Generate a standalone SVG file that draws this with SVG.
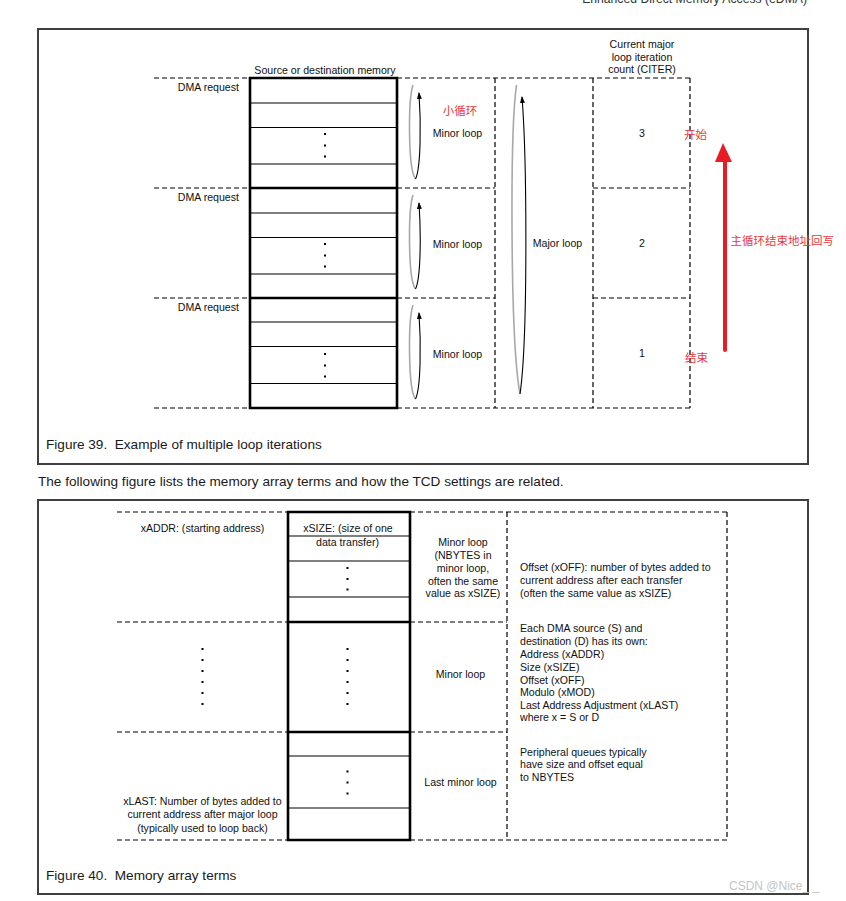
<svg xmlns="http://www.w3.org/2000/svg" width="846" height="901" viewBox="0 0 846 901">
<style>
text{font-family:"Liberation Sans",Arial,sans-serif;fill:#111}
.t{font-size:10.6px}
.c{text-anchor:middle}
.e{text-anchor:end}
.cap{font-size:13.6px;fill:#1a1a1a}
.cn{font-family:"Liberation Sans","Noto Sans CJK SC",sans-serif;font-size:11.5px;fill:#e8383d}
.frame{fill:none;stroke:#404040;stroke-width:2}
.dash{fill:none;stroke:#000;stroke-width:1.2;stroke-dasharray:5,3}
.mem{fill:none;stroke:#000;stroke-width:2.6}
.row{stroke:#000;stroke-width:1.1}
.dot{fill:#000}
.lg{fill:none;stroke:#a8a8a8;stroke-width:1.6}
.lb{fill:none;stroke:#000;stroke-width:1.1}
</style>
<defs>
<marker id="ah" viewBox="0 0 7 6" refX="6" refY="3" markerWidth="7" markerHeight="6" markerUnits="userSpaceOnUse" orient="auto">
<path d="M0,0.5 L7,3 L0,5.5 Z" fill="#000"/>
</marker>
</defs>
<rect width="846" height="901" fill="#fff"/>
<text x="807" y="3" class="e" style="font-size:12.2px;fill:#333">Enhanced Direct Memory Access (eDMA)</text>

<!-- Figure 39 -->
<g id="fig39">
<rect x="38" y="29" width="770" height="435" class="frame"/>
<text x="325" y="74" class="t c">Source or destination memory</text>
<text x="642" y="48" class="t c">Current major</text>
<text x="642" y="60.5" class="t c">loop iteration</text>
<text x="642" y="73" class="t c">count (CITER)</text>
<path class="dash" d="M154,78H250M397,78H690M154,188H250M397,188H495M593,188H690M154,298H250M397,298H495M593,298H690M154,408H250M397,408H690M495,78V408M593,78V408M690,78V408"/>
<text x="46" y="449" class="cap">Figure 39.&#160; Example of multiple loop iterations</text>
</g>

<g id="mem39">
<path class="row" d="M250,103H397M250,127.5H397M250,164H397M250,213H397M250,237.5H397M250,274H397M250,322H397M250,346.5H397M250,383.5H397"/>
<path class="mem" d="M250,78H397V408H250ZM250,188H397M250,298H397"/>
<g class="dot">
<rect x="324" y="133" width="2" height="2"/><rect x="324" y="144.5" width="2" height="2"/><rect x="324" y="155.5" width="2" height="2"/>
<rect x="324" y="243" width="2" height="2"/><rect x="324" y="254.5" width="2" height="2"/><rect x="324" y="265.5" width="2" height="2"/>
<rect x="324" y="353" width="2" height="2"/><rect x="324" y="364.5" width="2" height="2"/><rect x="324" y="375.5" width="2" height="2"/>
</g>
</g>

<g id="req1"><text x="239" y="91" class="t e">DMA request</text></g>
<g id="req2"><text x="239" y="201" class="t e">DMA request</text></g>
<g id="req3"><text x="239" y="311" class="t e">DMA request</text></g>

<g id="minor1"><text x="457.5" y="137" class="t c">Minor loop</text><text x="460" y="115" class="cn c">小循环</text></g>
<g id="minor2"><text x="457.5" y="248" class="t c">Minor loop</text></g>
<g id="minor3"><text x="457.5" y="358" class="t c">Minor loop</text></g>
<g id="major"><text x="557.5" y="247" class="t c">Major loop</text></g>
<g id="citer3"><text x="642" y="137" class="t c">3</text><text x="695.5" y="139" class="cn c">开始</text></g>
<g id="citer2"><text x="642" y="247" class="t c">2</text></g>
<g id="citer1"><text x="642" y="357" class="t c">1</text><text x="696.5" y="362" class="cn c">结束</text></g>

<g id="connectors">
<path class="lg" d="M413,85C408,100 408,170 415.5,179"/>
<path class="lb" d="M415.5,179C421,168 421,122 419,93" marker-end="url(#ah)"/>
<path class="lg" d="M413,195C408,210 408,280 415.5,289"/>
<path class="lb" d="M415.5,289C421,278 421,232 419,203" marker-end="url(#ah)"/>
<path class="lg" d="M413,305C408,320 408,390 415.5,399"/>
<path class="lb" d="M415.5,399C421,388 421,342 419,313" marker-end="url(#ah)"/>
<path class="lg" d="M516.5,85C510,130 510,340 520,394"/>
<path class="lb" d="M520,394C528,340 527,160 522,97" marker-end="url(#ah)"/>
<g id="writeback">
<path d="M725,350V158" stroke="#e81c24" stroke-width="4" stroke-linecap="round" fill="none"/>
<path d="M715,162L723,143L732,162Z" fill="#e81c24"/>
</g>
</g>
<g id="wbtext"><text x="730.5" y="244.5" class="cn">主循环结束地址回写</text></g>

<text x="38" y="486" class="cap">The following figure lists the memory array terms and how the TCD settings are related.</text>

<!-- Figure 40 -->
<g id="fig40">
<rect x="38" y="500" width="770" height="394" class="frame"/>
<path class="dash" d="M117,512H288M410,512H727M117,622H288M410,622H507M117,732H288M410,732H507M117,840H288M410,840H727M507,512V840M727,512V840"/>
<text x="46" y="880" class="cap">Figure 40.&#160; Memory array terms</text>
</g>

<g id="mem40">
<path class="row" d="M288,536H410M288,561H410M288,597H410M288,756H410M288,808H410"/>
<path class="mem" d="M288,512H410V840H288ZM288,622H410M288,732H410"/>
<text x="348" y="532" class="t c">xSIZE: (size of one</text>
<text x="347.5" y="546" class="t c">data transfer)</text>
<g class="dot">
<rect x="346.5" y="567" width="2" height="2"/><rect x="346.5" y="578" width="2" height="2"/><rect x="346.5" y="588.5" width="2" height="2"/>
<rect x="346.5" y="648" width="2" height="2"/><rect x="346.5" y="659" width="2" height="2"/><rect x="346.5" y="670" width="2" height="2"/><rect x="346.5" y="681" width="2" height="2"/><rect x="346.5" y="692" width="2" height="2"/><rect x="346.5" y="703" width="2" height="2"/>
<rect x="346.5" y="770.5" width="2" height="2"/><rect x="346.5" y="781.5" width="2" height="2"/><rect x="346.5" y="792.5" width="2" height="2"/>
</g>
</g>

<g id="xaddr"><text x="202.5" y="532" class="t c">xADDR: (starting address)</text></g>
<g id="leftdots" class="dot">
<rect x="201.5" y="648" width="2" height="2"/><rect x="201.5" y="659" width="2" height="2"/><rect x="201.5" y="670" width="2" height="2"/><rect x="201.5" y="681" width="2" height="2"/><rect x="201.5" y="692" width="2" height="2"/><rect x="201.5" y="703" width="2" height="2"/>
</g>
<g id="xlast">
<text x="202.5" y="805" class="t c">xLAST: Number of bytes added to</text>
<text x="202.5" y="818" class="t c">current address after major loop</text>
<text x="202.5" y="832" class="t c">(typically used to loop back)</text>
</g>

<g id="mloop1">
<text x="463" y="546" class="t c">Minor loop</text>
<text x="463" y="559" class="t c">(NBYTES in</text>
<text x="463" y="572" class="t c">minor loop,</text>
<text x="463" y="585" class="t c">often the same</text>
<text x="463" y="597" class="t c">value as xSIZE)</text>
</g>
<g id="mloop2"><text x="460.5" y="678" class="t c">Minor loop</text></g>
<g id="mloop3"><text x="460.5" y="785.5" class="t c">Last minor loop</text></g>

<g id="desc">
<text x="520" y="571" class="t">Offset (xOFF): number of bytes added to</text>
<text x="520" y="584" class="t">current address after each transfer</text>
<text x="520" y="596.5" class="t">(often the same value as xSIZE)</text>
<text x="520" y="632" class="t">Each DMA source (S) and</text>
<text x="520" y="645" class="t">destination (D) has its own:</text>
<text x="520" y="657.5" class="t">Address (xADDR)</text>
<text x="520" y="670.5" class="t">Size (xSIZE)</text>
<text x="520" y="683.5" class="t">Offset (xOFF)</text>
<text x="520" y="695.5" class="t">Modulo (xMOD)</text>
<text x="520" y="708.5" class="t">Last Address Adjustment (xLAST)</text>
<text x="520" y="721" class="t">where x = S or D</text>
<text x="520" y="755.5" class="t">Peripheral queues typically</text>
<text x="520" y="768" class="t">have size and offset equal</text>
<text x="520" y="781" class="t">to NBYTES</text>
</g>

<text x="729" y="890" style="font-size:12px;fill:#c4c4c4">CSDN @Nice_ _</text>
</svg>
